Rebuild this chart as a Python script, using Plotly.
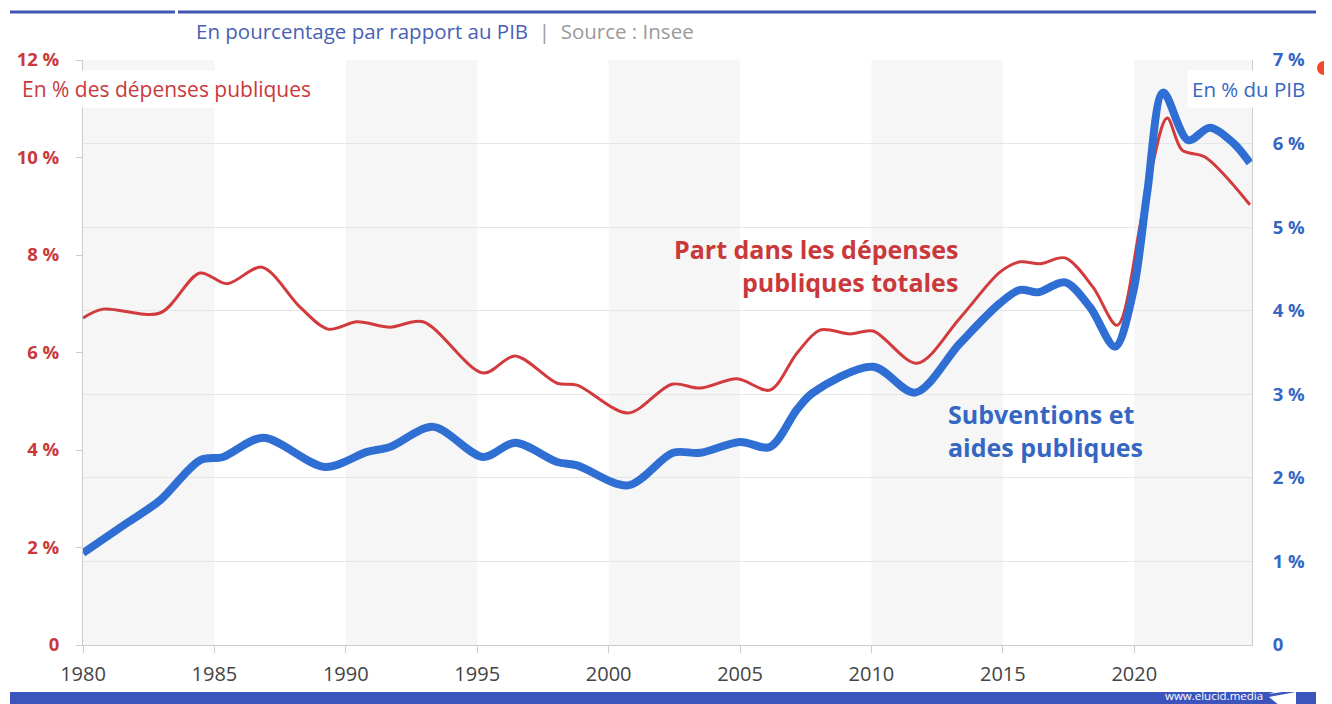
import plotly.graph_objects as go

# ---------------- data ----------------
years_red = [1980.0, 1980.76, 1982.93, 1984.45, 1985.48, 1986.81, 1988.26, 1989.32,
             1990.43, 1991.68, 1992.94, 1995.22, 1996.44, 1998.04, 1998.80, 2000.74,
             2002.41, 2003.48, 2004.89, 2006.14, 2007.17, 2008.04, 2009.19, 2010.06,
             2011.74, 2013.37, 2014.89, 2015.65, 2016.42, 2017.37, 2018.43, 2019.35,
             2020.34, 2021.25, 2021.82, 2022.69, 2024.40]
part_depenses = [6.71, 6.89, 6.81, 7.63, 7.41, 7.75, 6.93, 6.48,
                 6.63, 6.52, 6.63, 5.58, 5.93, 5.37, 5.33, 4.76,
                 5.35, 5.27, 5.46, 5.23, 5.99, 6.46, 6.38, 6.44,
                 5.78, 6.71, 7.65, 7.86, 7.82, 7.94, 7.34, 6.56,
                 8.92, 10.81, 10.15, 10.01, 9.03]

years_blue = [1980.0, 1981.67, 1982.93, 1984.45, 1985.33, 1986.85, 1989.21, 1990.81,
              1991.68, 1993.32, 1995.22, 1996.44, 1998.04, 1998.80, 2000.74, 2002.45,
              2003.48, 2005.00, 2006.14, 2007.17, 2007.78, 2010.06, 2011.66, 2013.37,
              2014.89, 2015.65, 2016.34, 2017.37, 2018.32, 2019.27, 2019.95, 2020.49,
              2021.10, 2022.05, 2022.88, 2023.76, 2024.40]
subventions_pib = [1.10, 1.46, 1.73, 2.21, 2.25, 2.48, 2.13, 2.31,
                   2.37, 2.61, 2.25, 2.42, 2.19, 2.15, 1.91, 2.30,
                   2.30, 2.43, 2.37, 2.82, 3.02, 3.33, 3.02, 3.61,
                   4.09, 4.25, 4.22, 4.34, 4.04, 3.57, 4.21, 5.41,
                   6.61, 6.04, 6.19, 6.01, 5.77]

x_ticks = [1980, 1985, 1990, 1995, 2000, 2005, 2010, 2015, 2020]
left_ticks = [0, 2, 4, 6, 8, 10, 12]
left_labels = ["0", "2 %", "4 %", "6 %", "8 %", "10 %", "12 %"]
right_ticks = [0, 1, 2, 3, 4, 5, 6, 7]
right_labels = ["0", "1 %", "2 %", "3 %", "4 %", "5 %", "6 %", "7 %"]
band_starts = [1980, 1990, 2000, 2010, 2020]
band_width = 5

# ---------------- styling ----------------
RED = "#d23b3d"
RED_TXT = "#c9393c"
BLUE = "#2f6ed2"
BLUE_TXT = "#3567c2"
FONT = "Open Sans"

OFF = 8  # the page body margin shifts the figure by 8 px
W, H = 1332 - OFF, 704 - OFF
# plot area in page pixels
L, R, T, B = 83, 1252, 60, 645


def px(x):
    return (x - L) / (R - L)


def py(y):
    return (B - y) / (B - T)


fig = go.Figure()

fig.add_trace(go.Scatter(
    x=years_blue, y=subventions_pib, yaxis="y2", mode="lines",
    line=dict(color=BLUE, width=8, shape="spline", smoothing=0.9),
    hoverinfo="skip", showlegend=False))

fig.add_trace(go.Scatter(
    x=years_red, y=part_depenses, yaxis="y", mode="lines",
    line=dict(color=RED, width=3, shape="spline", smoothing=0.9),
    hoverinfo="skip", showlegend=False))

shapes = []
for s in band_starts:
    shapes.append(dict(type="rect", xref="x", yref="paper", x0=s, x1=s + band_width,
                       y0=0, y1=1, fillcolor="#f6f6f6", line=dict(width=0), layer="below"))

# top rule (with a small gap) and bottom bar
shapes.append(dict(type="line", xref="paper", yref="paper", x0=px(10), x1=px(175),
                   y0=py(12), y1=py(12), line=dict(color="#4257b5", width=3)))
shapes.append(dict(type="line", xref="paper", yref="paper", x0=px(178), x1=px(1316),
                   y0=py(12), y1=py(12), line=dict(color="#4257b5", width=3)))
shapes.append(dict(type="rect", xref="paper", yref="paper", x0=px(10), x1=px(1316),
                   y0=py(706), y1=py(692), fillcolor="#3c55bd", line=dict(width=0)))
# small logo
shapes.append(dict(type="path", xref="paper", yref="paper",
                   path=f"M {px(1269)},{py(694)} L {px(1296)},{py(683)} L {px(1296)},{py(690)} Z",
                   fillcolor="#ffffff", line=dict(width=0)))
shapes.append(dict(type="path", xref="paper", yref="paper",
                   path=f"M {px(1269)},{py(697)} L {px(1296)},{py(692)} L {px(1296)},{py(706)} L {px(1280)},{py(706)} Z",
                   fillcolor="#ffffff", line=dict(width=0)))
# orange dot
shapes.append(dict(type="circle", xref="paper", yref="paper", x0=px(1317), x1=px(1331),
                   y0=py(75), y1=py(61), fillcolor="#f3472b", line=dict(width=0)))

annotations = [
    dict(xref="paper", yref="paper", x=px(194), y=py(31), xanchor="left", yanchor="middle",
         showarrow=False, font=dict(family=FONT, size=20.5),
         text="<span style='color:#4a5fb5'>En pourcentage par rapport au PIB</span>"
              "<span style='color:#9a9a9a'>  |  Source : Insee</span>"),
    dict(xref="paper", yref="paper", x=px(17), y=py(89), xanchor="left", yanchor="middle",
         showarrow=False, bgcolor="#ffffff", borderpad=4,
         font=dict(family=FONT, size=21, color=RED_TXT), text="En % des dépenses publiques"),
    dict(xref="paper", yref="paper", x=px(1310), y=py(89), xanchor="right", yanchor="middle",
         showarrow=False, bgcolor="#ffffff", borderpad=4,
         font=dict(family=FONT, size=20.5, color=BLUE_TXT), text="En % du PIB"),
    dict(xref="paper", yref="paper", x=px(960), y=py(265), xanchor="right", yanchor="middle",
         showarrow=False, align="right",
         font=dict(family=FONT, size=25, color=RED_TXT, weight="bold"),
         text="Part dans les dépenses<br>publiques totales"),
    dict(xref="paper", yref="paper", x=px(946), y=py(430), xanchor="left", yanchor="middle",
         showarrow=False, align="left",
         font=dict(family=FONT, size=25, color=BLUE_TXT, weight="bold"),
         text="Subventions et<br>aides publiques"),
    dict(xref="paper", yref="paper", x=px(1264), y=py(695.5), xanchor="right", yanchor="middle",
         showarrow=False, borderpad=0, font=dict(family=FONT, size=11.5, color="#ffffff"),
         text="www.elucid.media"),
]

fig.update_layout(
    width=W, height=H,
    margin=dict(l=L - OFF, r=W - (R - OFF), t=T - OFF, b=H - (B - OFF), pad=0,
                autoexpand=False),
    paper_bgcolor="#ffffff", plot_bgcolor="#ffffff",
    shapes=shapes, annotations=annotations, showlegend=False,
    xaxis=dict(range=[1980, 2024.48], tickvals=x_ticks, ticks="outside", ticklen=7,
               tickcolor="#cccccc", showline=True, linecolor="#cccccc", showgrid=False,
               zeroline=False, tickfont=dict(family=FONT, size=20, color="#444444"),
               ticklabelstandoff=4, automargin=False),
    yaxis=dict(range=[0, 12], tickvals=left_ticks, ticktext=left_labels, ticks="outside",
               ticklen=6, tickcolor="#cccccc", showline=True, linecolor="#cccccc",
               showgrid=False, zeroline=False, ticklabelstandoff=13, automargin=False,
               tickfont=dict(family=FONT, size=18.5, color=RED_TXT, weight="bold")),
    yaxis2=dict(range=[0, 7], tickvals=right_ticks, ticktext=right_labels, overlaying="y",
                side="right", showline=True, linecolor="#cccccc", showgrid=True,
                gridcolor="#e6e6e6", zeroline=False, ticks="", ticklabelstandoff=16,
                automargin=False,
                tickfont=dict(family=FONT, size=18.5, color=BLUE_TXT, weight="bold")),
)

fig.write_html("out.html")
